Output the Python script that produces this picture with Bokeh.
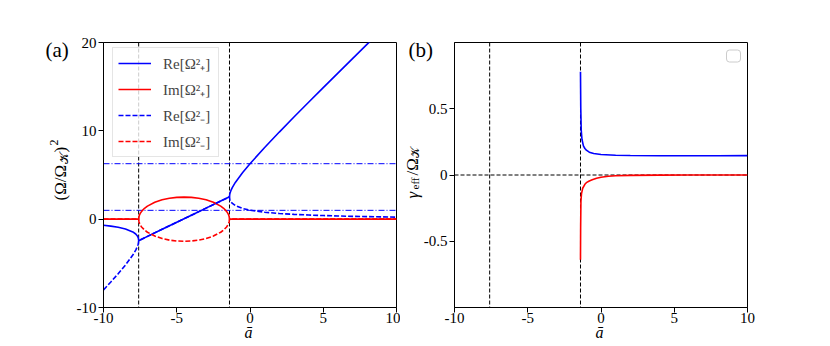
from bokeh.plotting import figure
from bokeh.layouts import row
from bokeh.models import Range1d, FixedTicker, Label, Legend, LegendItem, Span
from bokeh.embed import file_html
from bokeh.resources import INLINE

# ---------------- data ----------------
a_re = [-10, -9.5, -9, -8.5, -8, -7.8, -7.7, -7.65, -7.62, -7.6,
        -7.5, -7, -6, -5, -4, -3, -2, -1.5, -1.4,
        -1.38, -1.35, -1.3, -1.2, -1, -0.5, 0,
        1, 2, 3, 4, 5, 6, 7, 8, 9, 10]
re_plus = [-0.69, -0.79, -0.92, -1.11, -1.44, -1.68, -1.87, -2.02, -2.16, -2.43,
           -2.35, -1.95, -1.15, -0.35, 0.45, 1.25, 2.05, 2.45, 2.53,
           2.83, 3.02, 3.25, 3.60, 4.16, 5.29, 6.28,
           8.11, 9.86, 11.56, 13.23, 14.89, 16.54, 18.18, 19.81, 21.44, 23.07]
re_minus = [-8.01, -7.11, -6.18, -5.19, -4.06, -3.50, -3.15, -2.92, -2.73, -2.43,
            -2.35, -1.95, -1.15, -0.35, 0.45, 1.25, 2.05, 2.45, 2.53,
            2.26, 2.12, 1.97, 1.78, 1.54, 1.21, 1.02,
            0.79, 0.64, 0.54, 0.47, 0.41, 0.36, 0.32, 0.29, 0.26, 0.23]

a_im = [-10, -7.6, -7.58, -7.55, -7.5, -7.4, -7.2, -7, -6.5, -6, -5.5, -5, -4.5,
        -4, -3.5, -3, -2.5, -2, -1.8, -1.6, -1.5, -1.45, -1.42, -1.4, 10]
im_plus = [0, 0, 0.26, 0.45, 0.63, 0.88, 1.23, 1.48, 1.91, 2.19, 2.37, 2.47, 2.5,
           2.47, 2.37, 2.19, 1.91, 1.48, 1.23, 0.88, 0.63, 0.45, 0.26, 0, 0]
im_minus = [0, 0, -0.26, -0.45, -0.63, -0.88, -1.23, -1.48, -1.91, -2.19, -2.37, -2.47, -2.5,
            -2.47, -2.37, -2.19, -1.91, -1.48, -1.23, -0.88, -0.63, -0.45, -0.26, 0, 0]

a_gp = [-1.4, -1.38, -1.35, -1.3, -1.2, -1.1, -1.0, -0.8, -0.5, 0, 1, 2, 4, 6, 8, 10]
gamma_plus = [0.78, 0.50, 0.34, 0.27, 0.22, 0.20, 0.188, 0.172, 0.162, 0.155,
              0.149, 0.147, 0.145, 0.145, 0.145, 0.146]
a_gm = [-1.4, -1.39, -1.37, -1.33, -1.25, -1.1, -1.0, -0.8, -0.6, -0.3, 0, 0.5, 1, 2, 4, 6, 10]
gamma_minus = [-0.64, -0.40, -0.20, -0.14, -0.10, -0.07, -0.058, -0.045, -0.036, -0.025,
               -0.017, -0.01, -0.006, -0.003, -0.001, 0, 0]

branch_points = [-7.6, -1.4]
ref_levels = [6.28, 1.0]
x_ticks = [-10, -5, 0, 5, 10]
y_ticks_a = [-10, 0, 10, 20]
y_ticks_b = [-0.5, 0, 0.5]
legend_labels = ["Re[Ω²₊]", "Im[Ω²₊]", "Re[Ω²₋]", "Im[Ω²₋]"]

# ---------------- styling / layout ----------------
FONT = "Liberation Serif"
BLUE = "#0000ff"
RED = "#ff0000"
FT, FH, FW = 42, 265, 293
P2X = 400                 # left edge of panel (b) canvas
F1L, F2L = 103, 454
XR = (-10, 10)
YA = (-10, 20)
YB = (-1, 1)
SHIFT = 7  # text baseline correction in px


def lx(px):
    return XR[0] + (px - F1L) * (XR[1] - XR[0]) / FW


def ly(py):
    return YA[1] - (py - FT) * (YA[1] - YA[0]) / FH


def rx(px):
    return XR[0] + (px - F2L) * (XR[1] - XR[0]) / FW


def ry(py):
    return YB[1] - (py - FT) * (YB[1] - YB[0]) / FH


def style(p, yticks):
    p.xgrid.visible = False
    p.ygrid.visible = False
    p.outline_line_color = "black"
    p.outline_line_alpha = 1
    p.outline_line_width = 1
    p.xaxis.ticker = FixedTicker(ticks=x_ticks)
    p.yaxis.ticker = FixedTicker(ticks=yticks)
    p.xaxis.major_label_overrides = {t: f"{t:g}" for t in x_ticks}
    p.yaxis.major_label_overrides = {t: f"{t:g}" for t in yticks}
    for ax in (p.xaxis[0], p.yaxis[0]):
        ax.axis_line_color = "black"
        ax.major_tick_line_color = "black"
        ax.major_tick_out = 5
        ax.major_tick_in = 0
        ax.minor_tick_out = 0
        ax.minor_tick_in = 0
        ax.major_label_text_font = FONT
        ax.major_label_text_font_size = "15px"
        ax.major_label_text_color = "black"
        ax.major_label_standoff = 2
    p.xaxis[0].major_label_standoff = 0


def txt(p, side, fx, fy, px, py, text, size, angle=0, italic=False, align="left"):
    if angle:
        px -= SHIFT
    else:
        py -= SHIFT
    p.add_layout(Label(x=fx(px), y=fy(py), text=text, text_font=FONT, text_font_size=size,
                       text_color="black", angle=angle, angle_units="deg",
                       text_align=align, text_baseline="alphabetic",
                       text_font_style="italic" if italic else "normal"), side)


# ---------------- panel (a) ----------------
p1 = figure(width=P2X, height=346, x_range=Range1d(*XR), y_range=Range1d(*YA),
            min_border_left=F1L, min_border_right=P2X - F1L - FW, min_border_top=FT,
            min_border_bottom=346 - FT - FH,
            output_backend="svg", toolbar_location=None)
style(p1, y_ticks_a)

for bp in branch_points:
    p1.add_layout(Span(location=bp, dimension="height", line_color="black",
                       line_dash="4 2", line_width=1, level="underlay"))
for lv in ref_levels:
    p1.add_layout(Span(location=lv, dimension="width", line_color=BLUE,
                       line_dash="6 2 1 2", line_width=1, level="underlay"))

r1 = p1.line(a_re, re_plus, line_color=BLUE, line_width=1.6)
r2 = p1.line(a_im, im_plus, line_color=RED, line_width=1.6)
r3 = p1.line(a_re, re_minus, line_color=BLUE, line_width=1.6, line_dash="5 2")
r4 = p1.line(a_im, im_minus, line_color=RED, line_width=1.6, line_dash="5 2")

legend = Legend(items=[LegendItem(label=lab, renderers=[r]) for lab, r in
                       zip(legend_labels, [r1, r2, r3, r4])],
                location=(9, 150), padding=5, spacing=6, glyph_width=33, glyph_height=20,
                label_height=20, label_width=50, label_standoff=12,
                label_text_font=FONT, label_text_font_size="15px",
                border_line_color="#cccccc", border_line_width=1,
                background_fill_alpha=0.8)
p1.add_layout(legend)

txt(p1, "above", lx, ly, 45, 56, "(a)", "21px")
txt(p1, "left", lx, ly, 248, 339, "ā", "16px", italic=True, align="center")
# y label (Ω/Ω𝒦)²
txt(p1, "left", lx, ly, 67, 200, "(Ω/Ω", "17px", angle=90)
txt(p1, "above", lx, ly, 70, 163, "𝒦", "12px", angle=90)
txt(p1, "left", lx, ly, 67, 152, ")", "17px", angle=90)
txt(p1, "below", lx, ly, 60, 145, "2", "12px", angle=90)

# ---------------- panel (b) ----------------
p2 = figure(width=830 - P2X, height=346, x_range=Range1d(*XR), y_range=Range1d(*YB),
            min_border_left=F2L - P2X, min_border_right=830 - F2L - FW, min_border_top=FT,
            min_border_bottom=346 - FT - FH,
            output_backend="svg", toolbar_location=None)
style(p2, y_ticks_b)

for bp in branch_points:
    p2.add_layout(Span(location=bp, dimension="height", line_color="black",
                       line_dash="4 2", line_width=1, level="underlay"))
p2.add_layout(Span(location=0, dimension="width", line_color="black",
                   line_dash="4 2", line_width=1, level="underlay"))

p2.line(a_gp, gamma_plus, line_color=BLUE, line_width=1.6)
p2.line(a_gm, gamma_minus, line_color=RED, line_width=1.6)

# empty legend box
p2.quad(left=[rx(726)], right=[rx(740)], top=[ry(49.5)], bottom=[ry(61.5)],
        fill_color="white", line_color="#cccccc", line_width=1, border_radius=3)

txt(p2, "above", rx, ry, 408, 56, "(b)", "21px")
txt(p2, "right", rx, ry, 599, 339, "ā", "16px", italic=True, align="center")
# y label γeff/Ω𝒦
txt(p2, "right", rx, ry, 418.5, 198, "γ", "17px", angle=90, italic=True)
txt(p2, "above", rx, ry, 421.5, 189, "eff", "11px", angle=90)
txt(p2, "right", rx, ry, 418.5, 175, "/Ω", "17px", angle=90)
txt(p2, "below", rx, ry, 421.5, 157, "𝒦", "11px", angle=90)

layout = row(p1, p2)
open("out.html", "w").write(file_html(layout, INLINE))
